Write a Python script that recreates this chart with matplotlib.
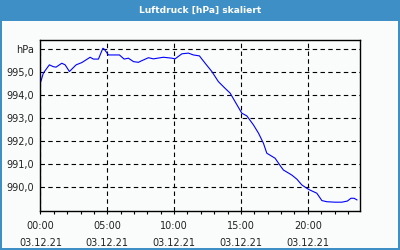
import matplotlib
matplotlib.use("Agg")
import matplotlib.pyplot as plt
from matplotlib.patches import Rectangle
from matplotlib.ticker import MultipleLocator

title = "Luftdruck [hPa] skaliert"
hours = [0.03, 0.22, 0.48, 0.67, 0.97, 1.17, 1.60, 1.85, 2.17, 2.67, 3.10, 3.72, 3.96,
         4.34, 4.67, 4.76, 5.09, 5.34, 5.91, 6.26, 6.58, 6.96, 7.33, 7.58, 8.08, 8.45,
         9.20, 9.83, 10.07, 10.58, 11.07, 11.44, 11.89, 12.32, 12.82, 13.31, 13.81,
         14.19, 14.56, 15.06, 15.44, 15.93, 16.31, 16.68, 16.93, 17.55, 17.98, 18.17,
         18.80, 19.18, 19.55, 20.04, 20.67, 21.05, 21.42, 22.04, 22.54, 22.96, 23.22,
         23.46, 23.67]
pressure = [994.59, 994.96, 995.17, 995.32, 995.24, 995.22, 995.39, 995.32, 995.03,
            995.32, 995.42, 995.65, 995.57, 995.57, 996.04, 996.01, 995.75, 995.75,
            995.75, 995.57, 995.61, 995.46, 995.43, 995.50, 995.63, 995.58, 995.65,
            995.61, 995.58, 995.80, 995.83, 995.75, 995.71, 995.39, 995.03, 994.59,
            994.30, 994.09, 993.72, 993.22, 993.10, 992.71, 992.35, 991.91, 991.48,
            991.26, 990.90, 990.75, 990.53, 990.35, 990.10, 989.91, 989.74, 989.42,
            989.37, 989.35, 989.35, 989.40, 989.52, 989.52, 989.45]
xticks = [0, 5, 10, 15, 20]
xticklabels = ["00:00\n03.12.21", "05:00\n03.12.21", "10:00\n03.12.21",
               "15:00\n03.12.21", "20:00\n03.12.21"]
yticks = [990, 991, 992, 993, 994, 995, 996]
yticklabels = ["990,0", "991,0", "992,0", "993,0", "994,0", "995,0", "hPa"]

W, H = 400, 250
fig = plt.figure(figsize=(4, 2.5), dpi=100)
bg = "#f9fcfa"
blue = "#3d8fc5"
fig.patch.set_facecolor(bg)

# title bar and border
fig.patches.append(Rectangle((0, 1 - 21 / H), 1, 21 / H, transform=fig.transFigure,
                             facecolor=blue, edgecolor="none", zorder=0))
fig.patches.append(Rectangle((0, 0), 2 / W, 1, transform=fig.transFigure,
                             facecolor=blue, edgecolor="none", zorder=0))
fig.patches.append(Rectangle((1 - 2 / W, 0), 2 / W, 1, transform=fig.transFigure,
                             facecolor=blue, edgecolor="none", zorder=0))
fig.patches.append(Rectangle((0, 0), 1, 2 / H, transform=fig.transFigure,
                             facecolor=blue, edgecolor="none", zorder=0))
fig.text(0.5, 1 - 10.5 / H, title, color="white", fontsize=6.6, fontweight="bold",
         ha="center", va="center")

ax = fig.add_axes([40 / W, (H - 210.7) / H, 320 / W, 170.7 / H])
ax.set_facecolor(bg)
ax.plot(hours, pressure, color="#0000ff", lw=0.8)
ax.set_xlim(-0.03, 23.9)
ax.set_ylim(988.98, 996.40)

ax.set_xticks(xticks)
ax.set_xticklabels(xticklabels, linespacing=1.85)
ax.xaxis.set_minor_locator(MultipleLocator(1))
ax.set_yticks(yticks)
ax.set_yticklabels(yticklabels)
ax.tick_params(axis="x", which="both", direction="out", length=2.5, width=0.8,
               labelsize=7, pad=5, colors="black")
ax.tick_params(axis="y", length=0, labelsize=7, pad=4)
for lab in ax.get_xticklabels() + ax.get_yticklabels():
    lab.set_color("#222222")

ax.grid(True, which="major", color="black", linestyle=(0, (4, 3)), lw=0.8)
for s in ax.spines.values():
    s.set_color("black")
    s.set_linewidth(1.0)

fig.savefig("out.png", dpi=100, facecolor=fig.get_facecolor())
